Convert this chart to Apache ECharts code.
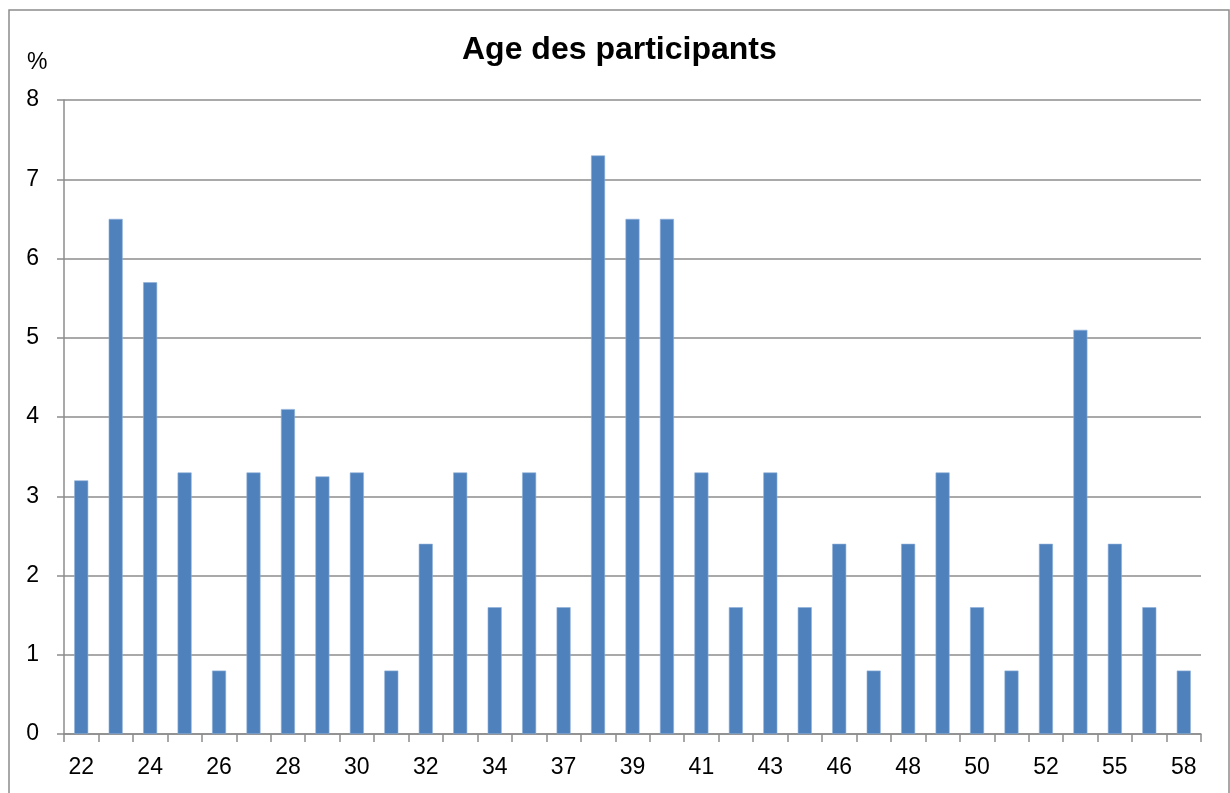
<!DOCTYPE html>
<html>
<head>
<meta charset="utf-8">
<script src="https://cdn.jsdelivr.net/npm/echarts@6/dist/echarts.min.js"></script>
<style>
  html, body { margin: 0; padding: 0; background: #fff; }
  #chart { width: 1230px; height: 793px; }
</style>
</head>
<body>
<div id="chart"></div>
<script>
// ages (only every other one gets a label)
var ages = ["22", "23", "24", "25", "26", "27", "28", "29", "30", "31", "32", "33", "34", "35",
  "37", "38", "39", "40", "41", "42", "43", "45", "46", "47", "48", "49", "50", "51", "52",
  "53", "55", "56", "58"];
// percentage of participants
var percents = [3.2, 6.5, 5.7, 3.3, 0.8, 3.3, 4.1, 3.25, 3.3, 0.8, 2.4, 3.3, 1.6, 3.3,
  1.6, 7.3, 6.5, 6.5, 3.3, 1.6, 3.3, 1.6, 2.4, 0.8, 2.4, 3.3, 1.6, 0.8, 2.4,
  5.1, 2.4, 1.6, 0.8];
var yTicks = [0, 1, 2, 3, 4, 5, 6, 7, 8];

var fontFam = '"Liberation Sans", Arial, sans-serif';
var gray = '#8c8c8c';

var myChart = echarts.init(document.getElementById('chart'));
myChart.setOption({
  animation: false,
  title: {
    text: 'Age des participants',
    left: 457,
    top: 29,
    textStyle: { fontFamily: fontFam, fontSize: 32, fontWeight: 'bold', color: '#000' }
  },
  graphic: [
    // cadre autour du graphique
    {
      type: 'rect',
      shape: { x: 9, y: 10, width: 1220, height: 800 },
      style: { fill: 'none', stroke: gray, lineWidth: 1.5 },
      silent: true
    },
    {
      type: 'text',
      left: 27,
      top: 51,
      style: { text: '%', fontFamily: fontFam, fontSize: 23, fill: '#000' }
    }
  ],
  grid: { left: 64, right: 29, top: 100, bottom: 59, containLabel: false },
  xAxis: {
    type: 'category',
    data: ages,
    axisLine: { lineStyle: { color: gray, width: 1.5 } },
    axisTick: { show: true, interval: 0, length: 8, lineStyle: { color: gray, width: 1.5 } },
    axisLabel: { interval: 1, margin: 22, fontFamily: fontFam, fontSize: 23, color: '#000' }
  },
  yAxis: {
    type: 'value',
    min: yTicks[0],
    max: yTicks[yTicks.length - 1],
    interval: 1,
    axisLine: { show: true, lineStyle: { color: gray, width: 1.5 } },
    axisTick: { show: true, length: 7, lineStyle: { color: gray, width: 1.5 } },
    axisLabel: { margin: 25, fontFamily: fontFam, fontSize: 23, color: '#000' },
    splitLine: { show: true, lineStyle: { color: gray, width: 1.5 } }
  },
  series: [{
    type: 'bar',
    data: percents,
    barWidth: 14,
    itemStyle: { color: '#4f81bd', borderColor: '#8fb0d8', borderWidth: 0.6 }
  }]
});
</script>
</body>
</html>
